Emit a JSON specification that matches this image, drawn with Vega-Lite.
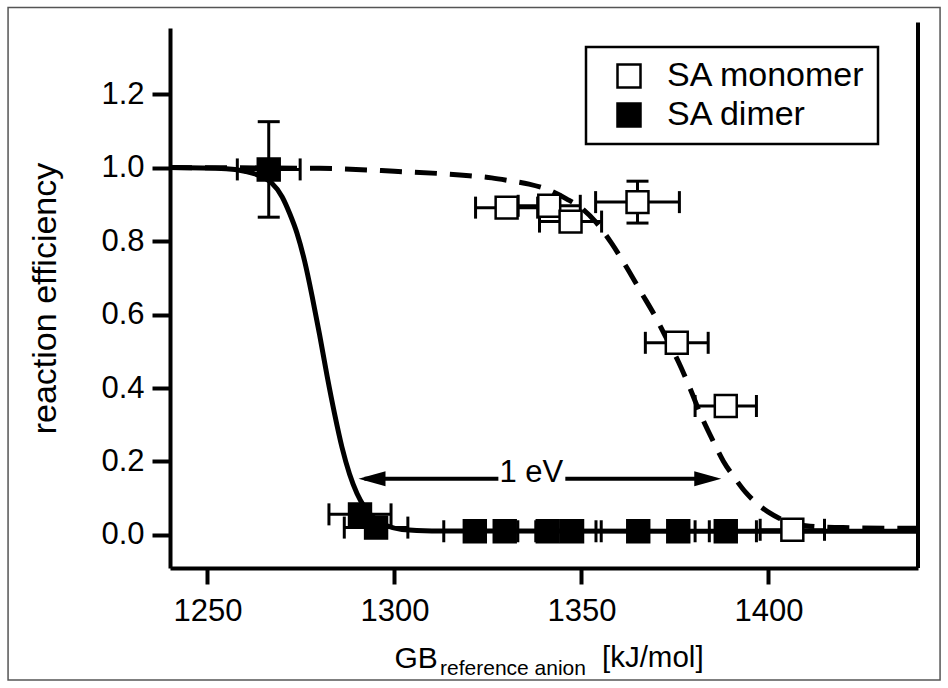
{
  "$schema": "https://vega.github.io/schema/vega-lite/v6.json",
  "width": 748,
  "height": 540,
  "autosize": "none",
  "padding": {"left": 170, "top": 28, "right": 30, "bottom": 120},
  "background": "white",
  "config": {"view": {"stroke": null}, "font": "Liberation Sans", "legend": {"strokeWidth": 2.5}},
  "datasets": {
    "dimerFit": [
      {"x": 1240, "y": 1.0}, {"x": 1255, "y": 0.997}, {"x": 1260, "y": 0.99}, {"x": 1264, "y": 0.978},
      {"x": 1267, "y": 0.96}, {"x": 1270, "y": 0.92}, {"x": 1272, "y": 0.875}, {"x": 1274, "y": 0.82},
      {"x": 1276, "y": 0.745}, {"x": 1278, "y": 0.65}, {"x": 1280, "y": 0.545}, {"x": 1282, "y": 0.433},
      {"x": 1284, "y": 0.33}, {"x": 1286, "y": 0.238}, {"x": 1288, "y": 0.166}, {"x": 1290, "y": 0.113},
      {"x": 1292, "y": 0.076}, {"x": 1295, "y": 0.042}, {"x": 1298, "y": 0.025}, {"x": 1302, "y": 0.015},
      {"x": 1310, "y": 0.011}, {"x": 1440, "y": 0.01}
    ],
    "monoFit": [
      {"x": 1240, "y": 1.0}, {"x": 1280, "y": 0.998}, {"x": 1300, "y": 0.99}, {"x": 1320, "y": 0.978},
      {"x": 1326, "y": 0.972}, {"x": 1331, "y": 0.964}, {"x": 1336, "y": 0.955}, {"x": 1341, "y": 0.94},
      {"x": 1346, "y": 0.915}, {"x": 1350, "y": 0.89}, {"x": 1354, "y": 0.85}, {"x": 1358, "y": 0.795},
      {"x": 1362, "y": 0.73}, {"x": 1366, "y": 0.66}, {"x": 1370, "y": 0.59}, {"x": 1373, "y": 0.53},
      {"x": 1376, "y": 0.47}, {"x": 1379, "y": 0.4}, {"x": 1382, "y": 0.325}, {"x": 1385, "y": 0.26},
      {"x": 1388, "y": 0.2}, {"x": 1391, "y": 0.155}, {"x": 1394, "y": 0.115}, {"x": 1397, "y": 0.085},
      {"x": 1400, "y": 0.062}, {"x": 1403, "y": 0.045}, {"x": 1406, "y": 0.033}, {"x": 1410, "y": 0.025},
      {"x": 1420, "y": 0.02}, {"x": 1440, "y": 0.018}
    ],
    "pts": [
      {"s": "SA monomer", "x": 1330.0, "y": 0.891, "xlo": 1321.7, "xhi": 1338.3},
      {"s": "SA monomer", "x": 1341.4, "y": 0.896, "xlo": 1333.1, "xhi": 1349.7},
      {"s": "SA monomer", "x": 1347.1, "y": 0.853, "xlo": 1338.8, "xhi": 1355.4},
      {"s": "SA monomer", "x": 1365.0, "y": 0.906, "xlo": 1353.8, "xhi": 1376.2, "ylo": 0.849, "yhi": 0.963},
      {"s": "SA monomer", "x": 1375.5, "y": 0.523, "xlo": 1367.1, "xhi": 1383.9},
      {"s": "SA monomer", "x": 1388.6, "y": 0.351, "xlo": 1380.4, "xhi": 1396.8},
      {"s": "SA monomer", "x": 1406.4, "y": 0.014, "xlo": 1397.8, "xhi": 1415.0},
      {"s": "SA dimer", "x": 1266.4, "y": 0.995, "xlo": 1258.0, "xhi": 1274.8, "ylo": 0.865, "yhi": 1.125},
      {"s": "SA dimer", "x": 1290.8, "y": 0.056, "xlo": 1282.5, "xhi": 1299.1},
      {"s": "SA dimer", "x": 1295.1, "y": 0.02, "xlo": 1286.6, "xhi": 1303.6},
      {"s": "SA dimer", "x": 1321.5, "y": 0.01, "xlo": 1313.2, "xhi": 1329.8},
      {"s": "SA dimer", "x": 1329.5, "y": 0.01, "xlo": 1321.2, "xhi": 1337.8},
      {"s": "SA dimer", "x": 1341.0, "y": 0.01, "xlo": 1333.0, "xhi": 1349.0},
      {"s": "SA dimer", "x": 1347.5, "y": 0.01, "xlo": 1341.1, "xhi": 1353.9},
      {"s": "SA dimer", "x": 1365.2, "y": 0.01, "xlo": 1355.3, "xhi": 1375.1},
      {"s": "SA dimer", "x": 1375.9, "y": 0.01, "xlo": 1367.6, "xhi": 1384.2},
      {"s": "SA dimer", "x": 1388.6, "y": 0.01, "xlo": 1380.4, "xhi": 1396.8}
    ]
  },
  "layer": [
    {
      "data": {"name": "dimerFit"},
      "mark": {"type": "line", "color": "black", "strokeWidth": 5, "interpolate": "monotone"},
      "encoding": {
        "x": {"field": "x", "type": "quantitative", "scale": {"domain": [1240, 1440], "nice": false, "zero": false},
          "axis": {"title": null, "values": [1250, 1300, 1350, 1400], "format": "d", "grid": false, "domainColor": "black", "domainWidth": 4, "tickColor": "black", "tickWidth": 4, "tickSize": 16, "labelFontSize": 31, "labelColor": "black", "labelPadding": 12, "labelFont": "Liberation Sans", "labelFlush": false, "labelOverlap": false}},
        "y": {"field": "y", "type": "quantitative", "scale": {"domain": [-0.09, 1.38], "nice": false, "zero": false},
          "axis": {"title": "reaction efficiency", "values": [0, 0.2, 0.4, 0.6, 0.8, 1, 1.2], "format": ".1f", "grid": false, "domainColor": "black", "domainWidth": 4, "tickColor": "black", "tickWidth": 4, "tickSize": 18, "labelFontSize": 31, "labelColor": "black", "labelPadding": 8, "labelFont": "Liberation Sans", "labelFlush": false, "titleFont": "Liberation Sans", "titleFontSize": 34, "titleFontWeight": "normal", "titleColor": "black", "titlePadding": 38}}
      }
    },
    {
      "data": {"values": [{}]},
      "mark": {"type": "rect", "fill": null, "stroke": "#555555", "strokeWidth": 1.5},
      "encoding": {
        "x": {"datum": 1196.7, "type": "quantitative"},
        "x2": {"datum": 1445.9},
        "y": {"datum": -0.395, "type": "quantitative"},
        "y2": {"datum": 1.436}
      }
    },
    {
      "data": {"name": "monoFit"},
      "mark": {"type": "line", "color": "black", "strokeWidth": 5, "strokeDash": [22, 13], "interpolate": "monotone"},
      "encoding": {
        "x": {"field": "x", "type": "quantitative"},
        "y": {"field": "y", "type": "quantitative"}
      }
    },
    {
      "data": {"values": [{}]},
      "mark": {"type": "rule", "color": "black", "strokeWidth": 4},
      "encoding": {
        "x": {"datum": 1440, "type": "quantitative"},
        "y": {"datum": -0.09, "type": "quantitative"},
        "y2": {"datum": 1.395}
      }
    },
    {
      "data": {"values": [{"x1": 1292, "x2": 1327.8, "y": 0.153}, {"x1": 1345.7, "x2": 1385, "y": 0.153}]},
      "mark": {"type": "rule", "color": "black", "strokeWidth": 4},
      "encoding": {
        "x": {"field": "x1", "type": "quantitative"},
        "x2": {"field": "x2"},
        "y": {"field": "y", "type": "quantitative"}
      }
    },
    {
      "data": {"values": [{"x": 1290.4, "y": 0.153, "dir": "left"}, {"x": 1387.4, "y": 0.153, "dir": "right"}]},
      "mark": {"type": "point", "filled": true, "color": "black", "opacity": 1, "size": 2916},
      "encoding": {
        "x": {"field": "x", "type": "quantitative"},
        "y": {"field": "y", "type": "quantitative"},
        "shape": {"field": "dir", "type": "nominal", "scale": {"domain": ["left", "right"], "range": ["M0,0L1,-0.28L1,0.28Z", "M0,0L-1,-0.28L-1,0.28Z"]}, "legend": null}
      }
    },
    {
      "data": {"values": [{"x": 1336.6, "y": 0.144, "label": "1 eV"}]},
      "mark": {"type": "text", "fontSize": 31, "align": "center", "baseline": "alphabetic", "color": "black"},
      "encoding": {
        "x": {"field": "x", "type": "quantitative"},
        "y": {"field": "y", "type": "quantitative"},
        "text": {"field": "label"}
      }
    },
    {
      "data": {"name": "pts"},
      "mark": {"type": "rule", "color": "black", "strokeWidth": 3},
      "encoding": {
        "x": {"field": "xlo", "type": "quantitative"},
        "x2": {"field": "xhi"},
        "y": {"field": "y", "type": "quantitative"}
      }
    },
    {
      "data": {"name": "pts"},
      "mark": {"type": "tick", "orient": "vertical", "color": "black", "size": 22, "thickness": 3, "opacity": 1},
      "encoding": {
        "x": {"field": "xlo", "type": "quantitative"},
        "y": {"field": "y", "type": "quantitative"}
      }
    },
    {
      "data": {"name": "pts"},
      "mark": {"type": "tick", "orient": "vertical", "color": "black", "size": 22, "thickness": 3, "opacity": 1},
      "encoding": {
        "x": {"field": "xhi", "type": "quantitative"},
        "y": {"field": "y", "type": "quantitative"}
      }
    },
    {
      "data": {"name": "pts"},
      "transform": [{"filter": "isValid(datum.ylo)"}],
      "mark": {"type": "rule", "color": "black", "strokeWidth": 3},
      "encoding": {
        "x": {"field": "x", "type": "quantitative"},
        "y": {"field": "ylo", "type": "quantitative"},
        "y2": {"field": "yhi"}
      }
    },
    {
      "data": {"name": "pts"},
      "transform": [{"filter": "isValid(datum.ylo)"}],
      "mark": {"type": "tick", "orient": "horizontal", "color": "black", "size": 22, "thickness": 3, "opacity": 1},
      "encoding": {
        "x": {"field": "x", "type": "quantitative"},
        "y": {"field": "ylo", "type": "quantitative"}
      }
    },
    {
      "data": {"name": "pts"},
      "transform": [{"filter": "isValid(datum.yhi)"}],
      "mark": {"type": "tick", "orient": "horizontal", "color": "black", "size": 22, "thickness": 3, "opacity": 1},
      "encoding": {
        "x": {"field": "x", "type": "quantitative"},
        "y": {"field": "yhi", "type": "quantitative"}
      }
    },
    {
      "data": {"name": "pts"},
      "mark": {"type": "point", "shape": "square", "filled": true, "size": 480, "stroke": "black", "strokeWidth": 2.5, "opacity": 1},
      "encoding": {
        "x": {"field": "x", "type": "quantitative"},
        "y": {"field": "y", "type": "quantitative"},
        "fill": {"field": "s", "type": "nominal", "scale": {"domain": ["SA monomer", "SA dimer"], "range": ["white", "black"]},
          "legend": {"title": null, "orient": "none", "legendX": 416, "legendY": 19, "direction": "vertical", "padding": 12, "strokeColor": "black", "fillColor": "white", "symbolType": "square", "symbolSize": 529, "symbolStrokeColor": "black", "symbolStrokeWidth": 2.5, "symbolOffset": 14, "labelFontSize": 34, "labelFont": "Liberation Sans", "labelColor": "black", "labelOffset": 21, "labelLimit": 400, "rowPadding": 5}}
      }
    },
    {
      "data": {"values": [{"x": 1300, "y": -0.362, "label": "GB"}]},
      "mark": {"type": "text", "fontSize": 30, "align": "left", "baseline": "alphabetic", "color": "black"},
      "encoding": {
        "x": {"field": "x", "type": "quantitative"},
        "y": {"field": "y", "type": "quantitative"},
        "text": {"field": "label"}
      }
    },
    {
      "data": {"values": [{"x": 1312.2, "y": -0.382, "label": "reference anion"}]},
      "mark": {"type": "text", "fontSize": 21, "align": "left", "baseline": "alphabetic", "color": "black"},
      "encoding": {
        "x": {"field": "x", "type": "quantitative"},
        "y": {"field": "y", "type": "quantitative"},
        "text": {"field": "label"}
      }
    },
    {
      "data": {"values": [{"x": 1355.5, "y": -0.36, "label": "[kJ/mol]"}]},
      "mark": {"type": "text", "fontSize": 29.5, "align": "left", "baseline": "alphabetic", "color": "black"},
      "encoding": {
        "x": {"field": "x", "type": "quantitative"},
        "y": {"field": "y", "type": "quantitative"},
        "text": {"field": "label"}
      }
    }
  ]
}
